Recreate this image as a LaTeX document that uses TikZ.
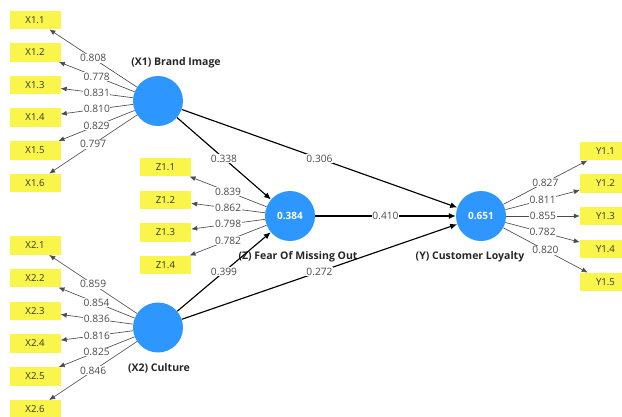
\documentclass[tikz,border=0pt]{standalone}
\usepackage{fontspec}
\setmainfont{Open Sans}
\usetikzlibrary{arrows.meta}
\definecolor{indyellow}{RGB}{250,245,75}
\definecolor{lvblue}{RGB}{45,150,255}
\definecolor{lblgray}{RGB}{75,75,75}
\tikzset{
  ind/.style={rectangle, fill=indyellow, minimum width=51pt, minimum height=18.5pt, inner sep=0pt,
    font=\fontsize{9.6}{10}\selectfont, text=black!80},
  lv/.style={circle, fill=lvblue, minimum size=50pt, inner sep=0pt, text=white,
    font=\fontsize{10}{11}\selectfont\bfseries},
  lvname/.style={font=\fontsize{10.5}{12}\selectfont\bfseries, text=black!85},
  loadarr/.style={draw=lblgray, line width=0.65pt, -{Latex[length=6pt,width=5pt]}},
  patharr/.style={draw=black, line width=1.15pt, -{Latex[length=7pt,width=6pt]}},
  lbl/.style={fill=white, inner sep=0.6pt, text=lblgray, font=\fontsize{10.2}{11}\selectfont, pos=0.5}
}
\begin{document}
\begin{tikzpicture}[x=1pt,y=-1pt]
\useasboundingbox (0,0) rectangle (622,416);
\clip (0,0) rectangle (622,416);
% latent variables
\node[lv] (X1) at (158,101) {};
\node[lv] (X2) at (158,327.5) {};
\node[lv] (Z) at (290,216) {0.384};
\node[lv] (Y) at (481,216) {0.651};
\node[lvname] (X1n) at (176,63) {(X1) Brand Image};
\node[lvname] (X2n) at (159,368) {(X2) Culture};
\node[lvname] (Zn) at (298,257) {(Z) Fear Of Missing Out};
\node[lvname] (Yn) at (470,257) {(Y) Customer Loyalty};
% X1 indicators
\node[ind] (x11) at (35,20) {X1.1};
\node[ind] (x12) at (35,52.5) {X1.2};
\node[ind] (x13) at (35,85) {X1.3};
\node[ind] (x14) at (35,117.5) {X1.4};
\node[ind] (x15) at (35,150.5) {X1.5};
\node[ind] (x16) at (35,183) {X1.6};
% X2 indicators
\node[ind] (x21) at (35,245.5) {X2.1};
\node[ind] (x22) at (35,278) {X2.2};
\node[ind] (x23) at (35,311) {X2.3};
\node[ind] (x24) at (35,343.5) {X2.4};
\node[ind] (x25) at (35,376.5) {X2.5};
\node[ind] (x26) at (35,409.5) {X2.6};
% Z indicators
\node[ind] (z1) at (165.5,167) {Z1.1};
\node[ind] (z2) at (165.5,200) {Z1.2};
\node[ind] (z3) at (165.5,232.5) {Z1.3};
\node[ind] (z4) at (165.5,265) {Z1.4};
% Y indicators
\node[ind] (y1) at (605.5,151) {Y1.1};
\node[ind] (y2) at (605.5,183.5) {Y1.2};
\node[ind] (y3) at (605.5,216) {Y1.3};
\node[ind] (y4) at (605.5,249) {Y1.4};
\node[ind] (y5) at (605.5,282) {Y1.5};
% loadings X1
\draw[loadarr] (X1) -- node[lbl]{0.808} (x11);
\draw[loadarr] (X1) -- node[lbl]{0.778} (x12);
\draw[loadarr] (X1) -- node[lbl]{0.831} (x13);
\draw[loadarr] (X1) -- node[lbl]{0.810} (x14);
\draw[loadarr] (X1) -- node[lbl]{0.829} (x15);
\draw[loadarr] (X1) -- node[lbl]{0.797} (x16);
% loadings X2
\draw[loadarr] (X2) -- node[lbl]{0.859} (x21);
\draw[loadarr] (X2) -- node[lbl]{0.854} (x22);
\draw[loadarr] (X2) -- node[lbl]{0.836} (x23);
\draw[loadarr] (X2) -- node[lbl]{0.816} (x24);
\draw[loadarr] (X2) -- node[lbl]{0.825} (x25);
\draw[loadarr] (X2) -- node[lbl]{0.846} (x26);
% loadings Z
\draw[loadarr] (Z) -- node[lbl]{0.839} (z1);
\draw[loadarr] (Z) -- node[lbl]{0.862} (z2);
\draw[loadarr] (Z) -- node[lbl]{0.798} (z3);
\draw[loadarr] (Z) -- node[lbl]{0.782} (z4);
% loadings Y
\draw[loadarr] (Y) -- node[lbl]{0.827} (y1);
\draw[loadarr] (Y) -- node[lbl]{0.811} (y2);
\draw[loadarr] (Y) -- node[lbl]{0.855} (y3);
\draw[loadarr] (Y) -- node[lbl]{0.782} (y4);
\draw[loadarr] (Y) -- node[lbl]{0.820} (y5);
% structural paths
\draw[patharr] (X1) -- node[lbl]{0.338} (Z);
\draw[patharr] (X1) -- node[lbl]{0.306} (Y);
\draw[patharr] (Z) -- node[lbl]{0.410} (Y);
\draw[patharr] (X2) -- node[lbl]{0.399} (Z);
\draw[patharr] (X2) -- node[lbl]{0.272} (Y);
\end{tikzpicture}
\end{document}
